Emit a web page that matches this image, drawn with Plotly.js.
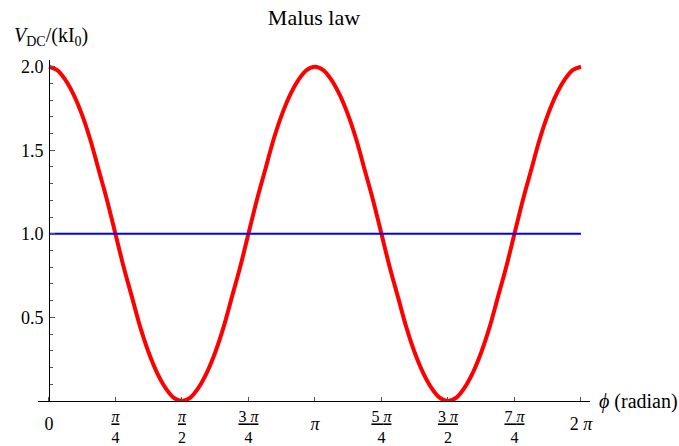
<!DOCTYPE html>
<html>
<head>
<meta charset="utf-8">
<script src="https://cdn.plot.ly/plotly-3.0.1.min.js"></script>
<style>
  html, body { margin: 0; padding: 0; background: #fff; }
  #chart { width: 679px; height: 446px; }
</style>
</head>
<body>
<div id="chart"></div>
<script>
// V_DC/(k I0) read every pi/32, starting at phi = 0 (x axis in units of pi)
const phiStart = 0;
const phiStep = 0.03125;
const vdc = [2.00, 1.98, 1.92, 1.83, 1.71, 1.56, 1.38, 1.20, 1.00, 0.80, 0.62, 0.44, 0.29, 0.17, 0.08, 0.02, 0.00,
             0.02, 0.08, 0.17, 0.29, 0.44, 0.62, 0.80, 1.00, 1.20, 1.38, 1.56, 1.71, 1.83, 1.92, 1.98, 2.00,
             1.98, 1.92, 1.83, 1.71, 1.56, 1.38, 1.20, 1.00, 0.80, 0.62, 0.44, 0.29, 0.17, 0.08, 0.02, 0.00,
             0.02, 0.08, 0.17, 0.29, 0.44, 0.62, 0.80, 1.00, 1.20, 1.38, 1.56, 1.71, 1.83, 1.92, 1.98, 2.00];
const refX = [0, 2];
const refY = [1, 1];

const fracTicks = [0, 0.25, 0.5, 0.75, 1, 1.25, 1.5, 1.75, 2];
const fracLabels = ['', '<u><i>π</i></u><br>4', '<u><i>π</i></u><br>2', '<u>3 <i>π</i></u><br>4', '',
                    '<u>5 <i>π</i></u><br>4', '<u>3 <i>π</i></u><br>2', '<u>7 <i>π</i></u><br>4', ''];
const wholeTicks = [0, 1, 2];
const wholeLabels = ['0', '<i>π</i>', '2 <i>π</i>'];
const yTicks = [0.5, 1.0, 1.5, 2.0];
const yLabels = ['0.5', '1.0', '1.5', '2.0'];

const serif = 'Liberation Serif, Times New Roman, serif';
const xRange = [-0.041, 2.034];

const data = [
  {x0: phiStart, dx: phiStep, y: vdc, mode: 'lines', line: {color: '#ff0000', width: 4, shape: 'spline'},
   xaxis: 'x', yaxis: 'y', hoverinfo: 'skip'},
  {x: refX, y: refY, mode: 'lines', line: {color: '#0000ff', width: 2},
   xaxis: 'x2', yaxis: 'y', hoverinfo: 'skip'}
];

const layout = {
  width: 679, height: 446,
  margin: {l: 38, r: 89, t: 60, b: 45},
  showlegend: false,
  plot_bgcolor: '#fff', paper_bgcolor: '#fff',
  font: {family: serif, color: '#000', size: 18},
  title: {text: 'Malus law', font: {family: serif, size: 22, color: '#000'},
          x: 0.5, xref: 'paper', xanchor: 'center', y: 0.962, yref: 'container', yanchor: 'middle'},
  xaxis: {range: xRange, showgrid: false, zeroline: false, showline: true, linecolor: '#000', linewidth: 1.2,
          ticks: 'inside', ticklen: 4, tickcolor: '#555', tickwidth: 1,
          tickvals: fracTicks, ticktext: fracLabels, ticklabelstandoff: 1,
          tickfont: {family: serif, size: 16, color: '#000'}},
  xaxis2: {range: xRange, overlaying: 'x', anchor: 'y', side: 'bottom', showgrid: false, zeroline: false,
           showline: false, ticks: '', tickvals: wholeTicks, ticktext: wholeLabels, ticklabelstandoff: 10,
           tickfont: {family: serif, size: 18, color: '#000'}},
  yaxis: {range: [0, 2.04], anchor: 'free', position: 0.0199, showgrid: false, zeroline: false,
          showline: true, linecolor: '#000', linewidth: 1.2,
          ticks: 'inside', ticklen: 5, tickcolor: '#555', tickwidth: 1,
          tickvals: yTicks, ticktext: yLabels, ticklabelstandoff: 2,
          tickfont: {family: serif, size: 18, color: '#000'},
          minor: {dtick: 0.1, tick0: 0, ticks: 'inside', ticklen: 3, tickcolor: '#555', showgrid: false}},
  annotations: [
    {text: '<i>V</i><sub>DC</sub>/(kI<sub>0</sub>)', xref: 'paper', yref: 'paper', x: -0.047, y: 1.07,
     xanchor: 'left', yanchor: 'middle', showarrow: false, font: {family: serif, size: 20, color: '#000'}},
    {text: '<i>ϕ</i> (radian)', xref: 'paper', yref: 'paper', x: 1.0127, y: 0,
     xanchor: 'left', yanchor: 'middle', showarrow: false, font: {family: serif, size: 20, color: '#000'}}
  ]
};

Plotly.newPlot('chart', data, layout, {staticPlot: true});
</script>
</body>
</html>
